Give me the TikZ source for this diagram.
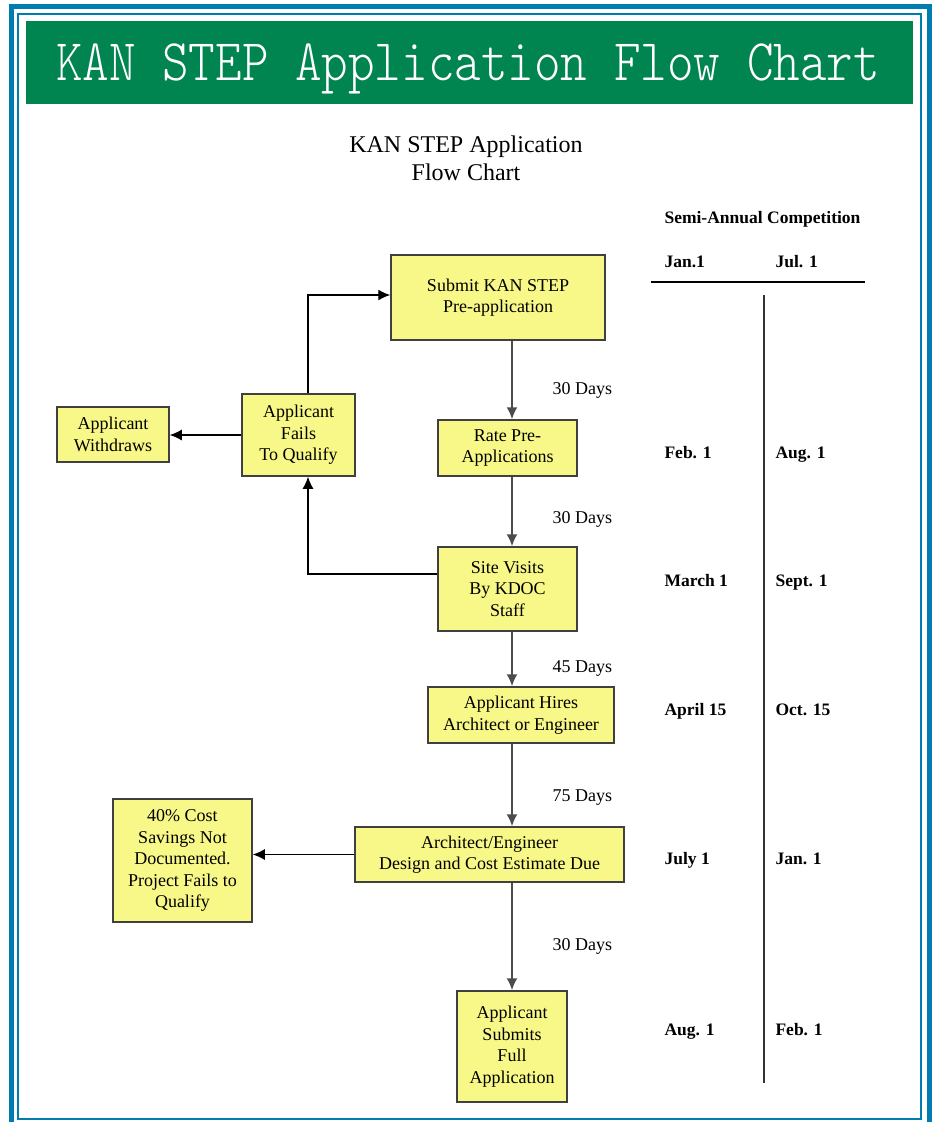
\documentclass[tikz,border=0pt]{standalone}
\usepackage{fontspec}
\setmainfont{Liberation Serif}
\newfontfamily\bannerfont[FakeStretch=0.858]{Latin Modern Mono Light}
\usetikzlibrary{arrows.meta}
\definecolor{kanyellow}{RGB}{248,248,136}
\definecolor{kangreen}{RGB}{0,132,80}
\definecolor{kanblue}{RGB}{0,125,175}
\definecolor{boxedge}{RGB}{64,64,64}
\begin{document}
\begin{tikzpicture}[x=1pt, y=-1pt,
  stage/.style={draw=boxedge, line width=1.5pt, fill=kanyellow, align=center,
    inner sep=0pt, font=\fontsize{18}{21.5}\selectfont},
  flow/.style={-{Latex[length=12pt,width=11pt]}, line width=1.8pt, draw=black!70},
  side/.style={-{Latex[length=12pt,width=11pt]}, line width=1.3pt},
  days/.style={anchor=base west, font=\fontsize{18}{21.5}\selectfont},
  date/.style={anchor=base west, font=\fontsize{17.5}{21}\selectfont\bfseries}]
  \useasboundingbox (0,0) rectangle (932,1122);
  % frame and banner
  \draw[kanblue, line width=5.5pt] (11.5,6.5) rectangle (929.5,1126);
  \draw[kanblue, line width=2pt] (18,14) rectangle (921,1119);
  \node[fill=kangreen, minimum width=887, minimum height=83, inner sep=0pt] (banner) at (469.5,62.5) {};
  \node[white, anchor=base, font=\bannerfont\fontsize{59}{60}\selectfont] (bannertext) at (468,80)
    {KAN STEP Application Flow Chart};
  \node[align=center, font=\fontsize{24}{28}\selectfont] (heading) at (466,158) {KAN STEP Application\\Flow Chart};

  % flow boxes
  \node[stage, minimum width=214, minimum height=85] (submit) at (498,297.5) {Submit KAN STEP\\Pre-application};
  \node[stage, minimum width=139, minimum height=56] (rate) at (507.5,448) {Rate Pre-\\Applications};
  \node[stage, minimum width=139, minimum height=84] (site) at (507.5,589) {Site Visits\\By KDOC\\Staff};
  \node[stage, minimum width=186, minimum height=56] (hires) at (521,715) {Applicant Hires\\Architect or Engineer};
  \node[stage, minimum width=269, minimum height=55] (design) at (489.5,854.5) {Architect/Engineer\\Design and Cost Estimate Due};
  \node[stage, minimum width=110, minimum height=111] (fullapp) at (512,1046.5) {Applicant\\Submits\\Full\\Application};
  \node[stage, minimum width=113, minimum height=82] (fails) at (298.5,435) {Applicant\\Fails\\To Qualify};
  \node[stage, minimum width=112, minimum height=55] (withdraw) at (113,434.5) {Applicant\\Withdraws};
  \node[stage, minimum width=139, minimum height=123] (nodoc) at (182.5,860.5) {40\% Cost\\Savings Not\\Documented.\\Project Fails to\\Qualify};

  % connectors
  \draw[flow] (submit.south -| fullapp.north) -- (rate.north -| fullapp.north);
  \draw[flow] (rate.south -| fullapp.north) -- (site.north -| fullapp.north);
  \draw[flow] (site.south -| fullapp.north) -- (hires.north -| fullapp.north);
  \draw[flow] (hires.south -| fullapp.north) -- (design.north -| fullapp.north);
  \draw[flow] (design.south -| fullapp.north) -- (fullapp.north);
  \draw[side] ([xshift=9.5]fails.north) |- ([yshift=2.5]submit.west);
  \draw[side] ([yshift=15]site.west) -| ([xshift=9.5]fails.south);
  \draw[side] (fails.west) -- (fails.west -| withdraw.east);
  \draw[side] (design.west) -- (design.west -| nodoc.east);

  \node[days] (d1) at (549,394) {30 Days};
  \node[days] (d2) at (549,523) {30 Days};
  \node[days] (d3) at (549,672) {45 Days};
  \node[days] (d4) at (549,801) {75 Days};
  \node[days] (d5) at (549,950) {30 Days};

  % competition dates
  \node[date] (comp) at (661,223) {Semi-Annual Competition};
  \node[date] (jan) at (661,267) {Jan.1};
  \node[date] (jul) at (772,267) {Jul. 1};
  \draw[line width=2.5pt] (651,282) -- (865,282);
  \draw[line width=2.5pt, black!80] (764,295) -- (764,1083);
  \node[date] (a1) at (661,458) {Feb. 1};
  \node[date] (b1) at (772,458) {Aug. 1};
  \node[date] (a2) at (661,586) {March 1};
  \node[date] (b2) at (772,586) {Sept. 1};
  \node[date] (a3) at (661,715) {April 15};
  \node[date] (b3) at (772,715) {Oct. 15};
  \node[date] (a4) at (661,864) {July 1};
  \node[date] (b4) at (772,864) {Jan. 1};
  \node[date] (a5) at (661,1035) {Aug. 1};
  \node[date] (b5) at (772,1035) {Feb. 1};
\end{tikzpicture}
\end{document}
